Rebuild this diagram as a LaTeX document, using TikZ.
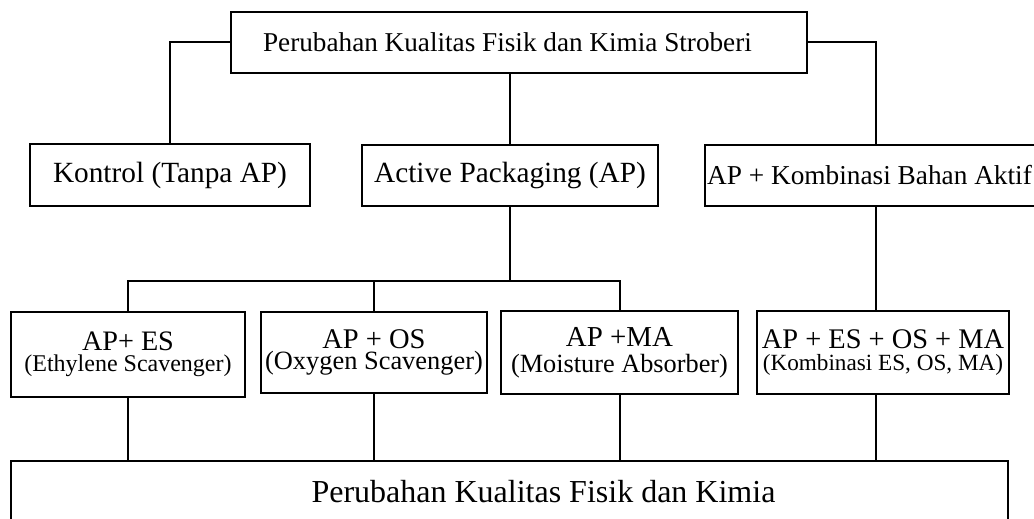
\documentclass[tikz,border=0pt]{standalone}
\usepackage{fontspec}
\setmainfont{Liberation Serif}

\begin{document}
\begin{tikzpicture}[x=0.5pt, y=-0.5pt, line width=1pt,
      box/.style={rectangle, draw, line width=1pt, inner sep=0pt, align=center},
      title/.style={box, minimum height=30.5pt, font=\fontsize{13.6}{0}\selectfont},
      group/.style={box, minimum height=30.5pt, font=\fontsize{14.65}{0}\selectfont},
      treat/.style={box, minimum height=41.5pt, font=\fontsize{14.2}{0}\selectfont},
      result/.style={box, minimum height=30.5pt, font=\fontsize{16}{0}\selectfont}]
      \clip (0,0) rectangle (1034,519);

      \node[title, minimum width=288pt] (top) at (519,42.5) {Perubahan Kualitas Fisik dan Kimia Stroberi\hspace*{11.5pt}};
      \node[group, minimum width=140pt] (kontrol) at (170,175) {Kontrol (Tanpa AP)};
      \node[group, minimum width=148pt] (ap) at (510,175.5) {Active Packaging (AP)};
      \node[group, minimum width=171pt, font=\fontsize{13.65}{0}\selectfont] (komb) at (876,175.5) {AP + Kombinasi Bahan Aktif\hspace*{6.5pt}};

      \node[treat, minimum width=117pt, minimum height=42.5pt, font=\fontsize{14.1}{0}\selectfont] (es) at (128,354.5)
        {AP+ ES\\[0.9pt]\fontsize{12}{0}\selectfont (Ethylene Scavenger)};
      \node[treat, minimum width=113pt, minimum height=40.5pt, font=\fontsize{14.25}{0}\selectfont] (os) at (374,352.5)
        {AP + OS\\[0.1pt]\fontsize{13.2}{0}\selectfont (Oxygen Scavenger)};
      \node[treat, minimum width=118.5pt, font=\fontsize{14.45}{0}\selectfont] (ma) at (619.5,352.5)
        {AP +MA\\[3.1pt]\fontsize{13.15}{0}\selectfont (Moisture Absorber)};
      \node[treat, minimum width=126pt] (all) at (883,352.5)
        {AP + ES + OS + MA\\[1.7pt]\fontsize{11.6}{0}\selectfont (Kombinasi ES, OS, MA)};

      \node[result, minimum width=498.5pt] (hasil) at (509.5,491.5) {\hspace*{34pt}Perubahan Kualitas Fisik dan Kimia};
      \coordinate (bus) at (513,281);

      % Lines
      \draw (top.west) -| (kontrol.north);
      \draw (top.south -| ap.north) -- (ap.north);
      \draw (top.east) -| (komb.north);

      \draw (ap.south) -- (ap.south |- bus);
      \draw (es.north) |- (bus) -| (ma.north);
      \draw (os.north) -- (os.north |- bus);
      \draw (komb.south) -- (komb.south |- all.north);

      \foreach \n in {es, os, ma} {
        \draw (\n.south) -- (\n.south |- hasil.north);
      }
      \draw (komb.south |- all.south) -- (komb.south |- hasil.north);
    \end{tikzpicture}
\end{document}
